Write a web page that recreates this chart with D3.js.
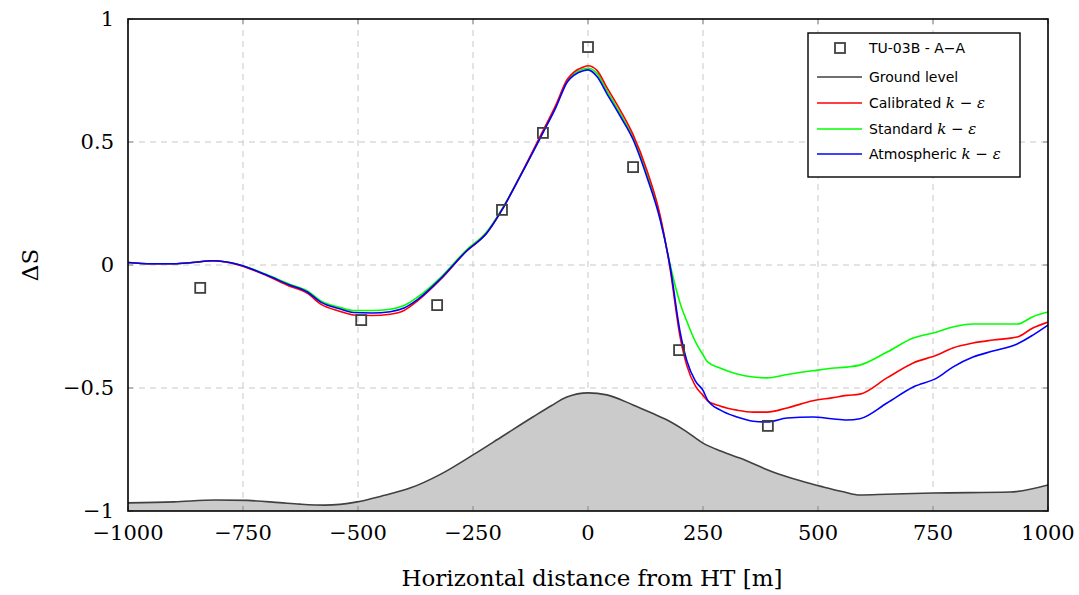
<!DOCTYPE html>
<html><head><meta charset="utf-8">
<script src="https://cdn.jsdelivr.net/npm/d3@7"></script>
<style>
body{margin:0;background:#fff;}
svg{display:block;}
.serif{font-family:"DejaVu Serif","Liberation Serif",serif;}
.sans{font-family:"DejaVu Sans","Liberation Sans",sans-serif;}
</style></head>
<body>
<svg id="chart" width="1079" height="595"></svg>
<script>
// ---- data ----
const xTicks = [-1000,-750,-500,-250,0,250,500,750,1000];
const yTicks = [-1,-0.5,0,0.5,1];

const measX = [-843,-493,-328,-187,-98,0,98,198,391];
const measY = [-0.093,-0.224,-0.163,0.224,0.537,0.886,0.398,-0.346,-0.654];

const groundX = [-1000,-900,-810,-740,-670,-626,-572,-502,-450,-387,-320,-250,-185,-120,-80,-46,0,41,98,140,172,210,250,290,330,402,460,511,555,591,650,750,917,1000];
const groundY = [-0.967,-0.963,-0.955,-0.957,-0.966,-0.972,-0.976,-0.963,-0.940,-0.907,-0.850,-0.772,-0.695,-0.618,-0.572,-0.537,-0.520,-0.528,-0.569,-0.603,-0.630,-0.672,-0.724,-0.757,-0.785,-0.841,-0.876,-0.902,-0.922,-0.935,-0.932,-0.927,-0.923,-0.894];

const simX = [-1000,-950,-900,-860,-815,-760,-700,-650,-610,-580,-540,-510,-470,-430,-400,-370,-320,-265,-220,-187,-148,-98,-70,-45,-30,-10,0,20,40,70,98,128,157,178,200,215,233,250,260,287,324,359,389,433,489,530,563,591,650,707,759,793,837,880,933,967,1000];
const calibrated = [0.010,0.005,0.005,0.010,0.017,0.000,-0.042,-0.085,-0.115,-0.160,-0.188,-0.203,-0.205,-0.200,-0.185,-0.145,-0.058,0.055,0.130,0.224,0.360,0.545,0.650,0.755,0.785,0.805,0.810,0.790,0.725,0.630,0.530,0.385,0.200,-0.010,-0.290,-0.410,-0.490,-0.530,-0.552,-0.573,-0.590,-0.598,-0.598,-0.581,-0.552,-0.540,-0.530,-0.525,-0.459,-0.398,-0.366,-0.337,-0.317,-0.305,-0.293,-0.256,-0.232];
const standard = [0.010,0.005,0.005,0.010,0.017,0.002,-0.038,-0.077,-0.105,-0.147,-0.172,-0.185,-0.185,-0.180,-0.165,-0.130,-0.050,0.060,0.135,0.228,0.360,0.540,0.645,0.750,0.778,0.797,0.800,0.778,0.712,0.615,0.518,0.370,0.192,0.005,-0.154,-0.230,-0.310,-0.365,-0.394,-0.419,-0.443,-0.455,-0.459,-0.445,-0.430,-0.420,-0.415,-0.407,-0.354,-0.297,-0.272,-0.252,-0.240,-0.240,-0.240,-0.210,-0.191];
const atmospheric = [0.010,0.005,0.005,0.010,0.017,0.002,-0.040,-0.080,-0.110,-0.152,-0.178,-0.193,-0.195,-0.190,-0.175,-0.140,-0.055,0.055,0.130,0.224,0.358,0.537,0.640,0.744,0.772,0.790,0.793,0.765,0.700,0.605,0.510,0.358,0.183,0.000,-0.270,-0.390,-0.470,-0.510,-0.549,-0.589,-0.618,-0.635,-0.638,-0.622,-0.618,-0.625,-0.630,-0.625,-0.561,-0.496,-0.459,-0.415,-0.374,-0.350,-0.321,-0.285,-0.244];

const seriesNames = ["Calibrated","Standard","Atmospheric"];
const seriesColors = ["#ff0000","#00ff00","#0000ff"];
const seriesValues = [calibrated, standard, atmospheric];

// ---- layout ----
const L = 128, R = 1048, T = 19, B = 511;
const svg = d3.select("#chart");
const x = d3.scaleLinear().domain([-1000,1000]).range([L,R]);
const y = d3.scaleLinear().domain([-1,1]).range([B,T]);

svg.append("defs").append("clipPath").attr("id","clip")
  .append("rect").attr("x",L).attr("y",T).attr("width",R-L).attr("height",B-T);

// grid
const grid = svg.append("g").attr("stroke","#c8c8c8").attr("stroke-width",1).attr("stroke-dasharray","6,5");
grid.selectAll("line.v").data(xTicks.slice(1,-1)).join("line")
  .attr("x1",d=>x(d)).attr("x2",d=>x(d)).attr("y1",T).attr("y2",B);
grid.selectAll("line.h").data(yTicks.slice(1,-1)).join("line")
  .attr("x1",L).attr("x2",R).attr("y1",d=>y(d)).attr("y2",d=>y(d));

const plot = svg.append("g").attr("clip-path","url(#clip)");

// ground
const gData = groundX.map((v,i)=>[v,groundY[i]]);
plot.append("path").datum(gData)
  .attr("d", d3.area().x(d=>x(d[0])).y0(y(-1)).y1(d=>y(d[1])).curve(d3.curveMonotoneX))
  .attr("fill","#cbcbcb");
plot.append("path").datum(gData)
  .attr("d", d3.line().x(d=>x(d[0])).y(d=>y(d[1])).curve(d3.curveMonotoneX))
  .attr("fill","none").attr("stroke","#404040").attr("stroke-width",1.6);

// simulations
const line = d3.line().x(d=>x(d[0])).y(d=>y(d[1])).curve(d3.curveMonotoneX);
[1,0,2].forEach(k=>{
  plot.append("path").datum(simX.map((v,i)=>[v,seriesValues[k][i]]))
    .attr("d",line).attr("fill","none").attr("stroke",seriesColors[k]).attr("stroke-width",1.6);
});

// markers
svg.append("g").selectAll("rect").data(measX.map((v,i)=>[v,measY[i]])).join("rect")
  .attr("x",d=>x(d[0])-5).attr("y",d=>y(d[1])-5).attr("width",10).attr("height",10)
  .attr("fill","none").attr("stroke","#404040").attr("stroke-width",1.8);

// ticks (inner)
const tk = svg.append("g").attr("stroke","#888").attr("stroke-width",1);
tk.selectAll("line.xb").data(xTicks).join("line").attr("x1",d=>x(d)).attr("x2",d=>x(d)).attr("y1",B).attr("y2",B-5);
tk.selectAll("line.xt").data(xTicks).join("line").attr("x1",d=>x(d)).attr("x2",d=>x(d)).attr("y1",T).attr("y2",T+5);
tk.selectAll("line.yl").data(yTicks).join("line").attr("x1",L).attr("x2",L+5).attr("y1",d=>y(d)).attr("y2",d=>y(d));
tk.selectAll("line.yr").data(yTicks).join("line").attr("x1",R).attr("x2",R-5).attr("y1",d=>y(d)).attr("y2",d=>y(d));

// frame
svg.append("rect").attr("x",L).attr("y",T).attr("width",R-L).attr("height",B-T)
  .attr("fill","none").attr("stroke","#000").attr("stroke-width",1.6);

// tick labels
const fmt = v => (v<0?"\u2212":"") + Math.abs(v);
svg.append("g").selectAll("text").data(xTicks).join("text")
  .attr("class","serif")
  .attr("x",d=>x(d)).attr("y",540).attr("text-anchor","middle")
  .attr("font-size",21).text(fmt);
svg.append("g").selectAll("text").data(yTicks).join("text")
  .attr("class","serif")
  .attr("x",114).attr("y",d=>y(d)+7).attr("text-anchor","end")
  .attr("font-size",21).text(fmt);

// axis titles
svg.append("text").attr("class","serif").attr("x",592).attr("y",586).attr("text-anchor","middle")
  .attr("font-size",23).text("Horizontal distance from HT [m]");
svg.append("text").attr("class","serif").attr("transform",`translate(38,${(T+B)/2}) rotate(-90)`).attr("text-anchor","middle")
  .attr("font-size",23).text("ΔS");

// legend
const lg = svg.append("g");
lg.append("rect").attr("x",808).attr("y",33).attr("width",212).attr("height",144)
  .attr("fill","#fff").attr("stroke","#000").attr("stroke-width",1.4);
const rows = [48,77,103,129,154];
lg.append("rect").attr("x",835).attr("y",rows[0]-5).attr("width",10).attr("height",10)
  .attr("fill","none").attr("stroke","#404040").attr("stroke-width",1.8);
lg.append("text").attr("class","sans").attr("x",869).attr("y",rows[0]+5).attr("font-size",14).text("TU-03B - A\u2212A");
lg.append("line").attr("x1",817).attr("x2",862).attr("y1",rows[1]).attr("y2",rows[1]).attr("stroke","#404040").attr("stroke-width",1.6);
lg.append("text").attr("class","sans").attr("x",869).attr("y",rows[1]+5).attr("font-size",14).text("Ground level");
seriesNames.forEach((n,i)=>{
  const ry = rows[i+2];
  lg.append("line").attr("x1",817).attr("x2",862).attr("y1",ry).attr("y2",ry).attr("stroke",seriesColors[i]).attr("stroke-width",1.6);
  const t = lg.append("text").attr("class","sans").attr("x",869).attr("y",ry+5).attr("font-size",14);
  t.append("tspan").text(n+" ");
  t.append("tspan").attr("class","serif").attr("font-style","italic").attr("font-size",15).text("k");
  t.append("tspan").attr("class","serif").attr("font-size",15).text(" \u2212 ");
  t.append("tspan").attr("class","serif").attr("font-style","italic").attr("font-size",15).text("\u03b5");
});
</script>
</body></html>
